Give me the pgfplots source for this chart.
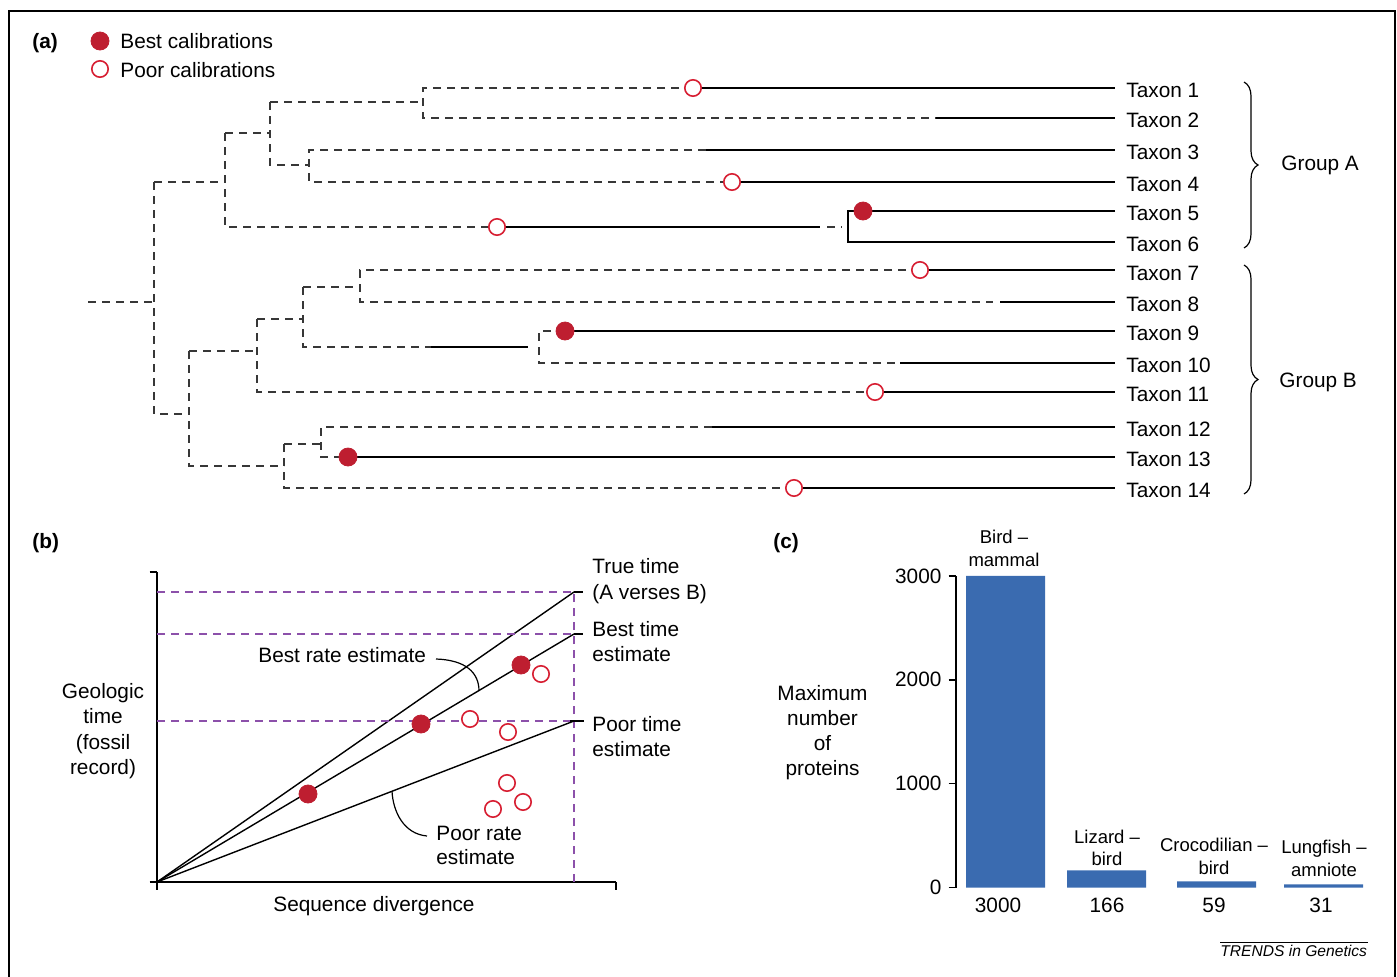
\documentclass[border=0pt]{standalone}
\usepackage{fontspec}
\setmainfont{Liberation Sans}
\usepackage{pgfplots}
\pgfplotsset{compat=1.18}
\usetikzlibrary{decorations.pathreplacing}
\definecolor{calred}{RGB}{190,30,48}
\definecolor{openred}{RGB}{215,30,50}
\definecolor{barblue}{RGB}{58,107,176}
\definecolor{purp}{RGB}{140,80,170}
\definecolor{treegray}{RGB}{55,55,55}
\begin{document}
\begin{tikzpicture}[font=\fontsize{10.4pt}{12.5pt}\selectfont,
  t/.style={inner sep=0pt},
  bl/.style={inner sep=0pt, anchor=base, font=\fontsize{9.25pt}{11pt}\selectfont},
  dsh/.style={treegray, line width=0.8pt, dash pattern=on 4pt off 3pt},
  sld/.style={black, line width=0.8pt},
  fillmk/.style={only marks, mark=*, mark size=4.5pt, mark options={fill=calred, draw=calred}},
  openmk/.style={only marks, mark=*, mark size=4.1pt, mark options={fill=white, draw=openred, line width=0.8pt}}]
% ---------------- canvas (pixel coordinates) with panel (a) ----------------
\begin{axis}[at={(0pt,0pt)}, anchor=north west, scale only axis,
  width=698.5pt, height=488.5pt, xmin=0, xmax=1397, ymin=0, ymax=977,
  y dir=reverse, hide axis, clip=false]
% frame
\draw[line width=1pt] (axis cs:9,977) -- (axis cs:9,10.5) -- (axis cs:1394.5,10.5) -- (axis cs:1394.5,977);
% tree: dashed branches
\addplot[dsh] coordinates {(88,302) (154,302)};
\addplot[dsh] coordinates {(154,182) (154,414) (189,414)};
\addplot[dsh] coordinates {(154,182) (225,182)};
\addplot[dsh] coordinates {(225,133) (225,227) (497,227)};
\addplot[dsh] coordinates {(225,133) (270,133)};
\addplot[dsh] coordinates {(270,102) (270,165) (309,165)};
\addplot[dsh] coordinates {(270,102) (423,102)};
\addplot[dsh] coordinates {(693,88) (423,88) (423,118) (936,118)};
\addplot[dsh] coordinates {(706,150) (309,150) (309,182) (732,182)};
\addplot[dsh] coordinates {(827,227) (842,227)};
\addplot[dsh] coordinates {(189,351) (189,466) (284,466)};
\addplot[dsh] coordinates {(189,351) (257,351)};
\addplot[dsh] coordinates {(257,319) (257,392) (875,392)};
\addplot[dsh] coordinates {(257,319) (303,319)};
\addplot[dsh] coordinates {(303,287) (303,347) (431,347)};
\addplot[dsh] coordinates {(303,287) (360,287)};
\addplot[dsh] coordinates {(920,270) (360,270) (360,302) (993,302)};
\addplot[dsh] coordinates {(565,331) (539,331) (539,363) (900,363)};
\addplot[dsh] coordinates {(284,444) (284,488) (794,488)};
\addplot[dsh] coordinates {(284,444) (321,444)};
\addplot[dsh] coordinates {(712,427) (321,427) (321,457) (348,457)};
% tree: solid branches
\addplot[sld] coordinates {(693,88) (1115,88)};
\addplot[sld] coordinates {(936,118) (1115,118)};
\addplot[sld] coordinates {(706,150) (1115,150)};
\addplot[sld] coordinates {(732,182) (1115,182)};
\addplot[sld] coordinates {(497,227) (820,227)};
\addplot[sld] coordinates {(1115,211) (848,211) (848,242) (1115,242)};
\addplot[sld] coordinates {(920,270) (1115,270)};
\addplot[sld] coordinates {(1000,302) (1115,302)};
\addplot[sld] coordinates {(431,347) (528,347)};
\addplot[sld] coordinates {(565,331) (1115,331)};
\addplot[sld] coordinates {(900,363) (1115,363)};
\addplot[sld] coordinates {(875,392) (1115,392)};
\addplot[sld] coordinates {(712,427) (1115,427)};
\addplot[sld] coordinates {(348,457) (1115,457)};
\addplot[sld] coordinates {(794,488) (1115,488)};
% calibrations
\addplot[openmk] coordinates {(693,88) (732,182) (497,227) (920,270) (875,392) (794,488) (100,69)};
\addplot[fillmk] coordinates {(863,211) (565,331) (348,457) (100,41)};
% legend text
\node[t, anchor=base west, font=\fontsize{10.4pt}{12.5pt}\selectfont\bfseries] at (axis cs:32,48.5) {(a)};
\node[t, anchor=base west] at (axis cs:120,48.5) {Best calibrations};
\node[t, anchor=base west] at (axis cs:120,77.3) {Poor calibrations};
% taxa
\node[t, anchor=base west] at (axis cs:1126,97) {Taxon 1};
\node[t, anchor=base west] at (axis cs:1126,127) {Taxon 2};
\node[t, anchor=base west] at (axis cs:1126,159) {Taxon 3};
\node[t, anchor=base west] at (axis cs:1126,191) {Taxon 4};
\node[t, anchor=base west] at (axis cs:1126,220) {Taxon 5};
\node[t, anchor=base west] at (axis cs:1126,251) {Taxon 6};
\node[t, anchor=base west] at (axis cs:1126,280) {Taxon 7};
\node[t, anchor=base west] at (axis cs:1126,311) {Taxon 8};
\node[t, anchor=base west] at (axis cs:1126,340) {Taxon 9};
\node[t, anchor=base west] at (axis cs:1126,372) {Taxon 10};
\node[t, anchor=base west] at (axis cs:1126,401) {Taxon 11};
\node[t, anchor=base west] at (axis cs:1126,436) {Taxon 12};
\node[t, anchor=base west] at (axis cs:1126,466) {Taxon 13};
\node[t, anchor=base west] at (axis cs:1126,497) {Taxon 14};
% braces
\draw[decorate, decoration={brace, amplitude=7pt}, line width=0.6pt] (axis cs:1244,82) -- (axis cs:1244,248);
\draw[decorate, decoration={brace, amplitude=7pt}, line width=0.6pt] (axis cs:1244,265) -- (axis cs:1244,494);
\node[t, anchor=base west] at (axis cs:1281,170.5) {Group A};
\node[t, anchor=base west] at (axis cs:1279,387.5) {Group B};
% ---- panel (b) text ----
\node[t, anchor=base west, font=\fontsize{10.4pt}{12.5pt}\selectfont\bfseries] at (axis cs:32,548) {(b)};
\node[t, anchor=base west] at (axis cs:592,573.3) {True time};
\node[t, anchor=base west] at (axis cs:592,599) {(A verses B)};
\node[t, anchor=base west] at (axis cs:592,636.7) {Best time};
\node[t, anchor=base west] at (axis cs:592,661.7) {estimate};
\node[t, anchor=base west] at (axis cs:592,731) {Poor time};
\node[t, anchor=base west] at (axis cs:592,756) {estimate};
\node[t, anchor=base west] at (axis cs:258,662.7) {Best rate estimate};
\node[t, anchor=base west] at (axis cs:436,840) {Poor rate};
\node[t, anchor=base west] at (axis cs:436,864) {estimate};
\node[t, anchor=base] at (axis cs:103,698) {Geologic};
\node[t, anchor=base] at (axis cs:103,723.5) {time};
\node[t, anchor=base] at (axis cs:103,749) {(fossil};
\node[t, anchor=base] at (axis cs:103,774.5) {record)};
\node[t, anchor=base] at (axis cs:374,911.7) {Sequence divergence};
% ---- panel (c) text ----
\node[t, anchor=base west, font=\fontsize{10.4pt}{12.5pt}\selectfont\bfseries] at (axis cs:773,548) {(c)};
\node[t, anchor=base] at (axis cs:822.5,700) {Maximum};
\node[t, anchor=base] at (axis cs:822.5,725) {number};
\node[t, anchor=base] at (axis cs:822.5,750) {of};
\node[t, anchor=base] at (axis cs:822.5,775) {proteins};
\node[bl] at (axis cs:1004,543.3) {Bird –};
\node[bl] at (axis cs:1004,566.7) {mammal};
\node[bl] at (axis cs:1107,843.3) {Lizard –};
\node[bl] at (axis cs:1107,865) {bird};
\node[bl] at (axis cs:1214,851.7) {Crocodilian –};
\node[bl] at (axis cs:1214,874) {bird};
\node[bl] at (axis cs:1324,853.3) {Lungfish –};
\node[bl] at (axis cs:1324,876.7) {amniote};
\node[t, anchor=base] at (axis cs:998,912.7) {3000};
\node[t, anchor=base] at (axis cs:1107,912.7) {166};
\node[t, anchor=base] at (axis cs:1214,912.7) {59};
\node[t, anchor=base] at (axis cs:1321,912.7) {31};
\draw[line width=0.5pt] (axis cs:1220,942) -- (axis cs:1368,942);
\node[t, anchor=base west, font=\fontsize{7.8pt}{9pt}\selectfont\itshape] at (axis cs:1220,956.7) {TRENDS in Genetics};
\end{axis}
% ---------------- panel (b) ----------------
\begin{axis}[at={(78.5pt,-441pt)}, anchor=south west, scale only axis,
  width=229.5pt, height=155pt, xmin=0, xmax=459, ymin=0, ymax=310,
  axis x line*=bottom, axis y line*=left,
  axis line style={-, line width=0.75pt, black},
  xtick={0,459}, ytick={0,310}, xticklabels={}, yticklabels={},
  tick align=outside, major tick length=3.75pt,
  tick style={black, line width=0.75pt}, clip=false]
\addplot[black, line width=0.7pt] coordinates {(0,0) (417,290)};
\addplot[black, line width=0.7pt] coordinates {(0,0) (417,248)};
\addplot[black, line width=0.7pt] coordinates {(0,0) (417,161)};
\addplot[purp, line width=0.75pt, dash pattern=on 4pt off 3pt] coordinates {(0,290) (417,290)};
\addplot[purp, line width=0.75pt, dash pattern=on 4pt off 3pt] coordinates {(0,248) (417,248)};
\addplot[purp, line width=0.75pt, dash pattern=on 4pt off 3pt] coordinates {(0,161) (417,161)};
\addplot[purp, line width=0.75pt, dash pattern=on 4pt off 3pt] coordinates {(417,0) (417,290)};
\draw[black, line width=0.7pt] (axis cs:417,290) -- (axis cs:426,290);
\draw[black, line width=0.7pt] (axis cs:417,248) -- (axis cs:426,248);
\draw[black, line width=0.7pt] (axis cs:413,161) -- (axis cs:427,161);
\draw[black, line width=0.6pt] (axis cs:279,223) .. controls (axis cs:308,222) and (axis cs:322,210) .. (axis cs:322,191);
\draw[black, line width=0.6pt] (axis cs:235,91) .. controls (axis cs:236,70) and (axis cs:247,48) .. (axis cs:270,46);
\addplot[fillmk] coordinates {(151,88) (264,158) (364,217)};
\addplot[openmk] coordinates {(384,208) (313,163) (351,150) (350,99) (366,80) (336,73)};
\end{axis}
% ---------------- panel (c) ----------------
\begin{axis}[at={(478pt,-443.75pt)}, anchor=south west, scale only axis,
  width=207pt, height=155.75pt, xmin=956, xmax=1370, ymin=0, ymax=3000,
  ybar, bar width=39.5pt,
  axis y line*=left, axis x line=none,
  axis line style={-, line width=0.75pt, black},
  xtick=\empty, ytick={0,1000,2000,3000},
  tick align=outside, major tick length=3.75pt,
  tick style={black, line width=0.75pt},
  tick label style={font=\fontsize{10.4pt}{12.5pt}\selectfont},
  /pgf/number format/1000 sep={},
  /pgf/number format/assume math mode=true,
  clip=false]
\addplot[fill=barblue, draw=none] coordinates {(1005.5,3000) (1106.5,166) (1216.5,59) (1323.5,31)};
\end{axis}
\pgfresetboundingbox
\path[use as bounding box] (0pt,0pt) rectangle (698.5pt,-488.5pt);
\end{tikzpicture}
\end{document}
